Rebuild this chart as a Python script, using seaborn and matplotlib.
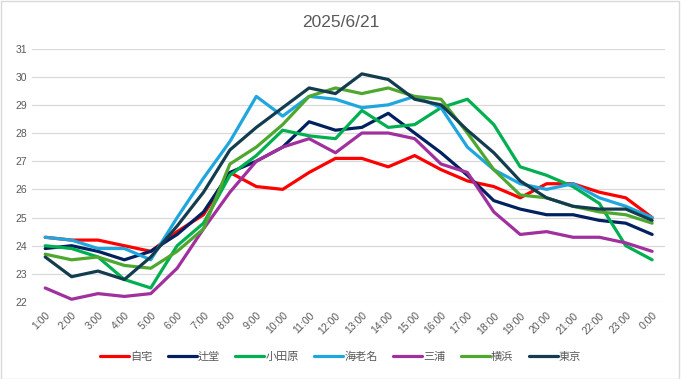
import numpy as np
import pandas as pd
import matplotlib
matplotlib.use("Agg")
import matplotlib.pyplot as plt
import seaborn as sns

# 時刻ラベル
hours = ["1:00", "2:00", "3:00", "4:00", "5:00", "6:00", "7:00", "8:00", "9:00",
         "10:00", "11:00", "12:00", "13:00", "14:00", "15:00", "16:00", "17:00",
         "18:00", "19:00", "20:00", "21:00", "22:00", "23:00", "0:00"]

# 各地点の気温
jitaku = [24.3, 24.2, 24.2, 24.0, 23.8, 24.5, 25.1, 26.6, 26.1, 26.0, 26.6, 27.1,
          27.1, 26.8, 27.2, 26.7, 26.3, 26.1, 25.7, 26.2, 26.2, 25.9, 25.7, 25.0]
tsujido = [23.9, 24.0, 23.8, 23.5, 23.8, 24.4, 25.2, 26.6, 27.0, 27.5, 28.4, 28.1,
           28.2, 28.7, 28.0, 27.3, 26.5, 25.6, 25.3, 25.1, 25.1, 24.9, 24.8, 24.4]
odawara = [24.0, 23.9, 23.6, 22.8, 22.5, 24.0, 24.8, 26.5, 27.2, 28.1, 27.9, 27.8,
           28.8, 28.2, 28.3, 28.9, 29.2, 28.3, 26.8, 26.5, 26.1, 25.5, 24.0, 23.5]
ebina = [24.3, 24.2, 23.9, 23.9, 23.5, 25.0, 26.4, 27.7, 29.3, 28.6, 29.3, 29.2,
         28.9, 29.0, 29.3, 28.9, 27.5, 26.7, 26.2, 26.0, 26.2, 25.7, 25.4, 25.0]
miura = [22.5, 22.1, 22.3, 22.2, 22.3, 23.2, 24.6, 25.9, 27.0, 27.5, 27.8, 27.3,
         28.0, 28.0, 27.8, 26.9, 26.6, 25.2, 24.4, 24.5, 24.3, 24.3, 24.1, 23.8]
yokohama = [23.7, 23.5, 23.6, 23.3, 23.2, 23.8, 24.6, 26.9, 27.5, 28.3, 29.3, 29.6,
            29.4, 29.6, 29.3, 29.2, 28.0, 26.7, 25.8, 25.7, 25.4, 25.2, 25.1, 24.8]
tokyo = [23.6, 22.9, 23.1, 22.8, 23.6, 24.7, 25.9, 27.4, 28.2, 28.9, 29.6, 29.4,
         30.1, 29.9, 29.2, 29.0, 28.1, 27.3, 26.3, 25.7, 25.4, 25.3, 25.3, 24.9]

names = ["自宅", "辻堂", "小田原", "海老名", "三浦", "横浜", "東京"]
colors = ["#FF0000", "#002060", "#00B050", "#1FA6DE", "#A0309E", "#4EA72E", "#133D4F"]

series = [jitaku, tsujido, odawara, ebina, miura, yokohama, tokyo]
df = pd.concat([
    pd.DataFrame({"idx": np.arange(len(hours)), "temp": vals, "place": name})
    for name, vals in zip(names, series)
])

sns.set_theme(style="white")
plt.rcParams["font.family"] = ["Liberation Sans", "Noto Sans CJK JP", "DejaVu Sans"]

fig = plt.figure(figsize=(6.81, 3.79), dpi=100)
ax = fig.add_axes([0.047, 0.203, 0.930, 0.669])

sns.lineplot(data=df, x="idx", y="temp", hue="place", hue_order=names,
             palette=colors, linewidth=2.3, ax=ax, legend=False, sort=False)

ax.set_xlim(-0.5, len(hours) - 0.5)
ax.set_ylim(22, 31)
ax.set_yticks(range(22, 32))
ax.set_xticks(range(len(hours)))
ax.set_xticklabels(hours, rotation=45, ha="right", rotation_mode="anchor")
ax.tick_params(axis="both", labelsize=7.5, colors="#595959", length=0)
ax.tick_params(axis="x", pad=6)
ax.set_xlabel("")
ax.set_ylabel("")
ax.grid(axis="y", color="#D9D9D9", linewidth=0.9)
ax.set_axisbelow(True)
for s in ax.spines.values():
    s.set_visible(False)

fig.suptitle("2025/6/21", y=0.96, fontsize=12.5, color="#595959")

handles = [plt.Line2D([], [], color=c, linewidth=2.3) for c in colors]
fig.legend(handles, names, loc="center", bbox_to_anchor=(0.5, 0.058), ncol=7,
           frameon=False, fontsize=8, handlelength=2.6, handletextpad=0.1,
           columnspacing=1.4, labelcolor="#595959")

# 外枠
fig.patches.append(plt.Rectangle((0.001, 0.001), 0.996, 0.996, transform=fig.transFigure,
                                 fill=False, edgecolor="#D9D9D9", linewidth=1))

fig.savefig("out.png", dpi=100)
